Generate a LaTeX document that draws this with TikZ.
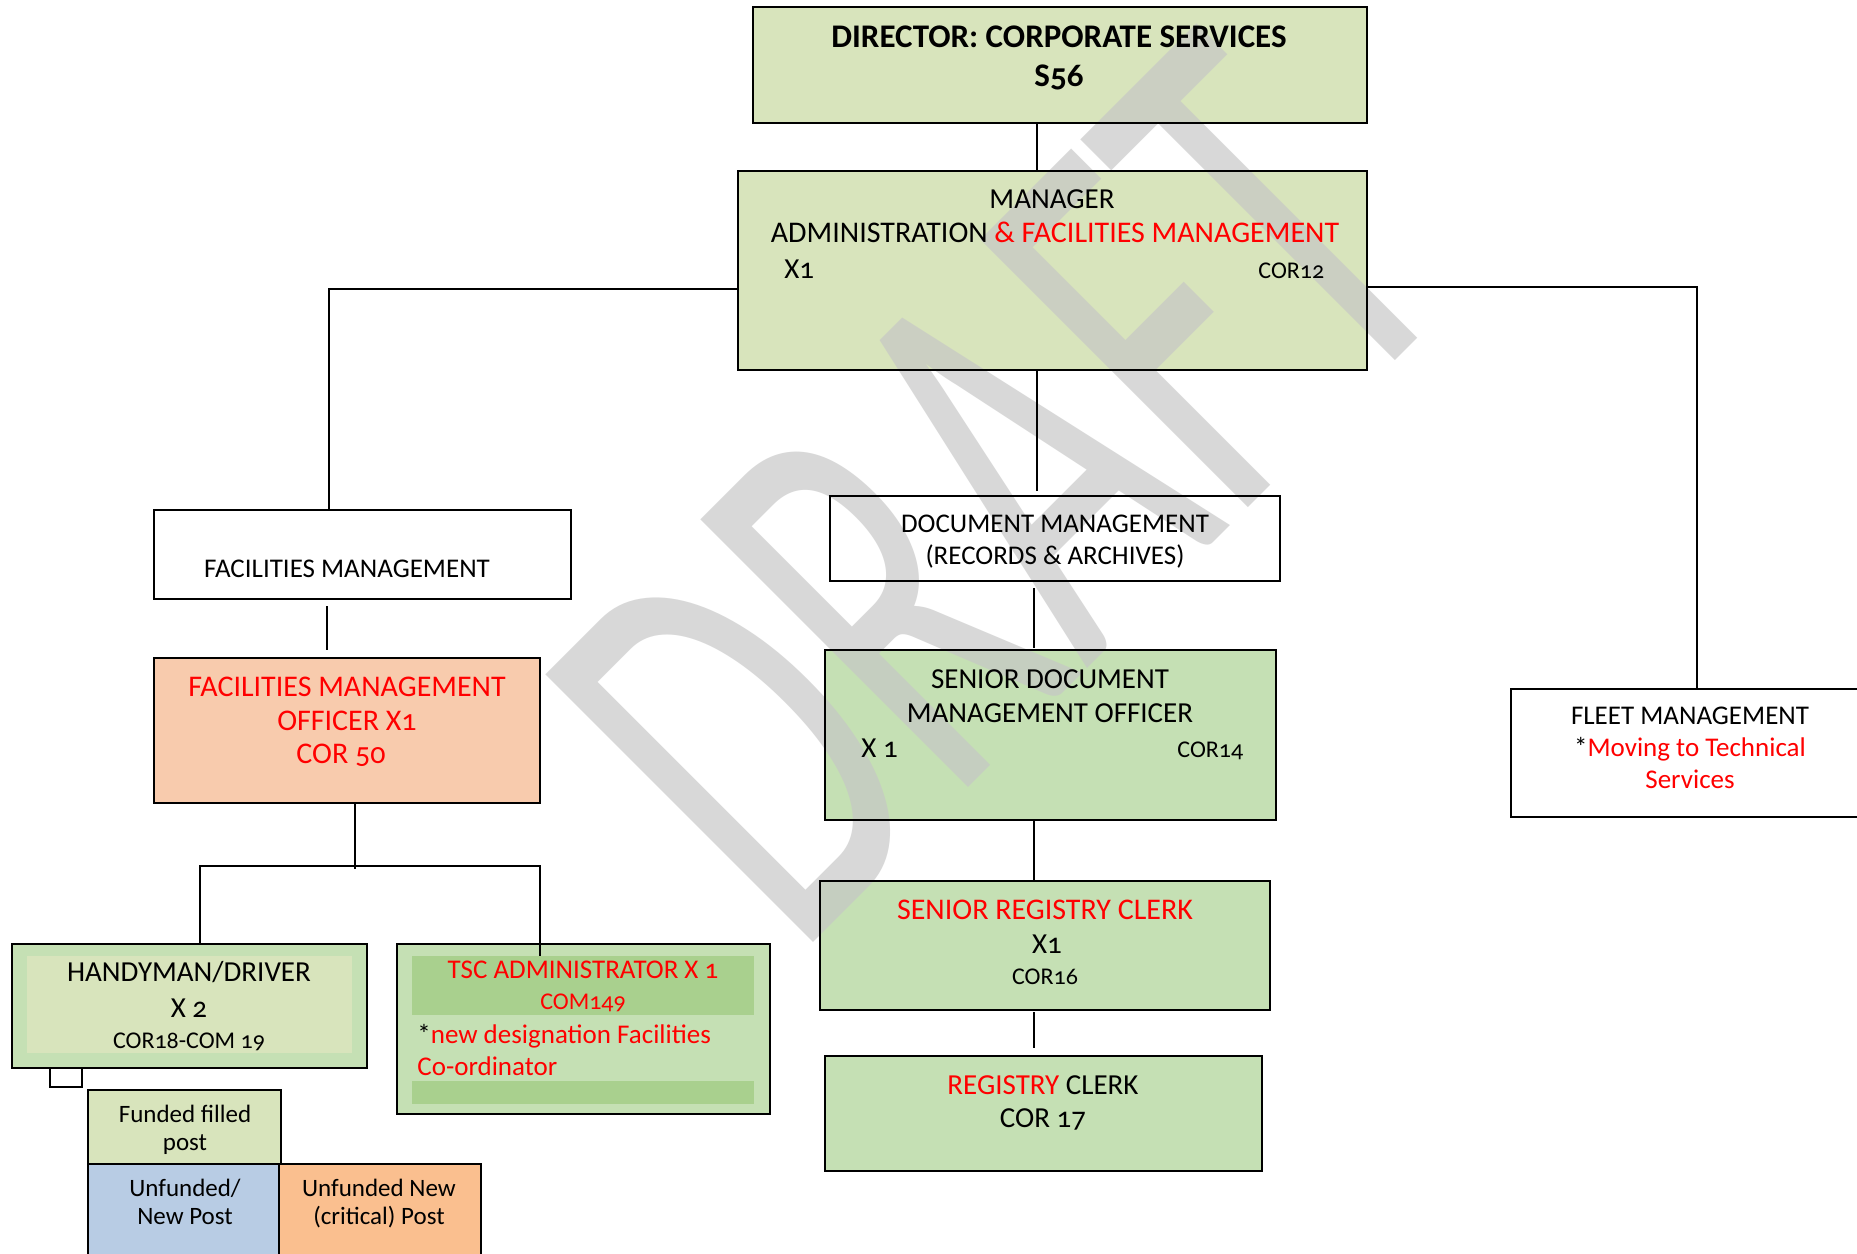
\documentclass[tikz,border=0pt]{standalone}
\usepackage{fontspec}
\setmainfont{Carlito}[Numbers=OldStyle]
\usepackage{graphicx}
\usetikzlibrary{fit}
\definecolor{cOlive}{RGB}{216,228,188}
\definecolor{cGreen}{RGB}{197,224,180}
\definecolor{cBand}{RGB}{169,208,142}
\definecolor{cPeach}{RGB}{248,203,173}
\definecolor{cBlue}{RGB}{184,204,228}
\definecolor{cOrange}{RGB}{250,191,143}
\definecolor{cRed}{RGB}{255,0,0}
\definecolor{cWm}{RGB}{198,198,198}
\begin{document}
\begin{tikzpicture}[x=0.5pt,y=-0.5pt,
  boxfill/.style={inner sep=0pt, outer sep=0pt, draw=none},
  border/.style={line width=1.2pt, draw=black},
  conn/.style={line width=1pt, draw=black},
  txt/.style={inner sep=0pt, anchor=base, align=center},
  ltxt/.style={inner sep=0pt, anchor=base west},
  fA/.style={font=\fontsize{16.5}{19}\selectfont\bfseries},
  fB/.style={font=\fontsize{14.5}{17}\selectfont},
  fM/.style={font=\fontsize{15}{18}\selectfont},
  fC/.style={font=\fontsize{13.5}{16}\selectfont},
  fD/.style={font=\fontsize{12}{14}\selectfont},
  fE/.style={font=\fontsize{15}{18}\selectfont},
  fL/.style={font=\fontsize{12.5}{15}\selectfont},
]
\useasboundingbox (0,0) rectangle (1857,1253);
\fill[white] (0,0) rectangle (1857,1253);

% ---------- box fills (right column, under the watermark) ----------
\node[boxfill, fill=cOlive, fit={(753,7) (1367,123)}] (dir) {};
\node[boxfill, fill=cOlive, fit={(738,171) (1367,370)}] (mgr) {};
\node[boxfill, fill=white, fit={(830,496) (1280,581)}] (doc) {};
\node[boxfill, fill=cGreen, fit={(825,650) (1276,820)}] (sdmo) {};
\node[boxfill, fill=cGreen, fit={(820,881) (1270,1010)}] (src) {};
\node[boxfill, fill=cGreen, fit={(825,1056) (1262,1171)}] (rc) {};
\node[boxfill, fill=white, fit={(1511,689) (1880,817)}] (fleet) {};

% ---------- watermark ----------
\node[rotate=45, anchor=base west, inner sep=0pt, text=cWm, opacity=0.68,
      font=\fontsize{295}{295}\selectfont] (wm) at (796,960)
      {\scalebox{0.6}[1]{DRAFT}};

% ---------- box fills (left column, over the watermark) ----------
\node[boxfill, fill=white, fit={(154,510) (571,599)}] (fm) {};
\node[boxfill, fill=cPeach, fit={(154,658) (540,803)}] (fmo) {};
\node[boxfill, fill=cGreen, fit={(12,944) (367,1068)}] (hd) {};
\node[boxfill, fill=cOlive, fit={(27,956) (352,1053)}] (hdin) {};
\node[boxfill, fill=cGreen, fit={(397,944) (770,1114)}] (tsc) {};
\node[boxfill, fill=cBand, fit={(412,956) (754,1015)}] (tscb1) {};
\node[boxfill, fill=cBand, fit={(412,1081) (754,1104)}] (tscb2) {};
\node[boxfill, fill=white, fit={(50,1068) (82,1087)}] (sq) {};
\node[boxfill, fill=cOlive, fit={(88,1090) (281,1164)}] (leg1) {};
\node[boxfill, fill=cBlue, fit={(88,1164) (279,1270)}] (leg2) {};
\node[boxfill, fill=cOrange, fit={(279,1164) (481,1270)}] (leg3) {};

% ---------- borders ----------
\foreach \n in {dir,mgr,fm,fmo,hd,tsc,sq,leg1,leg2,leg3,doc,sdmo,src,rc,fleet}
  \draw[border] (\n.north west) rectangle (\n.south east);

% ---------- connectors ----------
\coordinate (xa) at (1037,0);
\coordinate (jl) at (329,289);
\coordinate (jr) at (1697,287);
\coordinate (xb) at (327,0);
\coordinate (jc) at (355,866);
\coordinate (jh) at (200,866);
\coordinate (jt) at (540,866);
\coordinate (xd) at (1034,0);
\draw[conn] (xa |- dir.south) -- (xa |- mgr.north);
\draw[conn] (mgr.west |- jl) -- (jl) -- (jl |- fm.north);
\draw[conn] (mgr.east |- jr) -- (jr) -- (jr |- fleet.north);
\draw[conn, shorten >=2.5pt] (xa |- mgr.south) -- (xa |- doc.north);
\draw[conn, shorten <=3.5pt, shorten >=4pt] (xb |- fm.south) -- (xb |- fmo.north);
\draw[conn] (jc |- fmo.south) -- ([yshift=-1.5pt]jc);
\draw[conn] (jh |- hd.north) -- (jh) -- (jt) -- (jt |- tscb1.north);
\draw[conn, shorten <=3.5pt, shorten >=1pt] (xd |- doc.south) -- (xd |- sdmo.north);
\draw[conn] (xd |- sdmo.south) -- (xd |- src.north);
\draw[conn, shorten <=1pt, shorten >=4pt] (xd |- src.south) -- (xd |- rc.north);

% ---------- texts ----------
\node[txt, fA] (t1) at (1059,47) {DIRECTOR: CORPORATE SERVICES};
\node[txt, fA] (t2) at (1059,86) {S56};

\node[txt, fB] (t3) at (1052,208) {MANAGER};
\node[txt, fM] (t4) at (1055,242) {ADMINISTRATION {\color{cRed}\& FACILITIES MANAGEMENT}};
\node[ltxt, fB] (t5) at (784,278) {X1};
\node[ltxt, fD] (t6) at (1258,278) {COR12};

\node[txt, fC] (t7) at (347,577) {FACILITIES MANAGEMENT};

\node[txt, fE, text=cRed] (t8) at (347,696) {FACILITIES MANAGEMENT};
\node[txt, fE, text=cRed] (t9) at (347,730) {OFFICER X1};
\node[txt, fE, text=cRed] (t10) at (341,763) {COR 50};

\node[txt, fB] (t11) at (189,981) {HANDYMAN/DRIVER};
\node[txt, fB] (t12) at (189,1017) {X 2};
\node[txt, fD] (t13) at (189,1048) {COR18-COM 19};

\node[txt, fC, text=cRed] (t14) at (583,978) {TSC ADMINISTRATOR X 1};
\node[txt, fD, text=cRed] (t15) at (583,1009) {COM149};
\node[ltxt, fC] (t16) at (417,1043) {*{\color{cRed}new designation Facilities}};
\node[ltxt, fC, text=cRed] (t17) at (417,1075) {Co-ordinator};

\node[txt, fL] (t18) at (185,1122) {Funded filled};
\node[txt, fL] (t19) at (185,1150) {post};
\node[txt, fL] (t20) at (185,1196) {Unfunded/};
\node[txt, fL] (t21) at (185,1224) {New Post};
\node[txt, fL] (t22) at (379,1196) {Unfunded New};
\node[txt, fL] (t23) at (379,1224) {(critical) Post};

\node[txt, fC] (t24) at (1055,532) {DOCUMENT MANAGEMENT};
\node[txt, fC] (t25) at (1055,564) {(RECORDS \& ARCHIVES)};

\node[txt, fB] (t26) at (1050,688) {SENIOR DOCUMENT};
\node[txt, fB] (t27) at (1050,722) {MANAGEMENT OFFICER};
\node[ltxt, fB] (t28) at (861,757) {X 1};
\node[ltxt, fD] (t29) at (1177,757) {COR14};

\node[txt, fE, text=cRed] (t30) at (1045,919) {SENIOR REGISTRY CLERK};
\node[txt, fB] (t31) at (1047,953) {X1};
\node[txt, fD] (t32) at (1045,984) {COR16};

\node[txt, fB] (t33) at (1043,1094) {{\color{cRed}REGISTRY} CLERK};
\node[txt, fB] (t34) at (1043,1127) {COR 17};

\node[txt, fC] (t35) at (1690,724) {FLEET MANAGEMENT};
\node[txt, fC] (t36) at (1690,756) {*{\color{cRed}Moving to Technical}};
\node[txt, fC, text=cRed] (t37) at (1690,788) {Services};
\end{tikzpicture}
\end{document}
